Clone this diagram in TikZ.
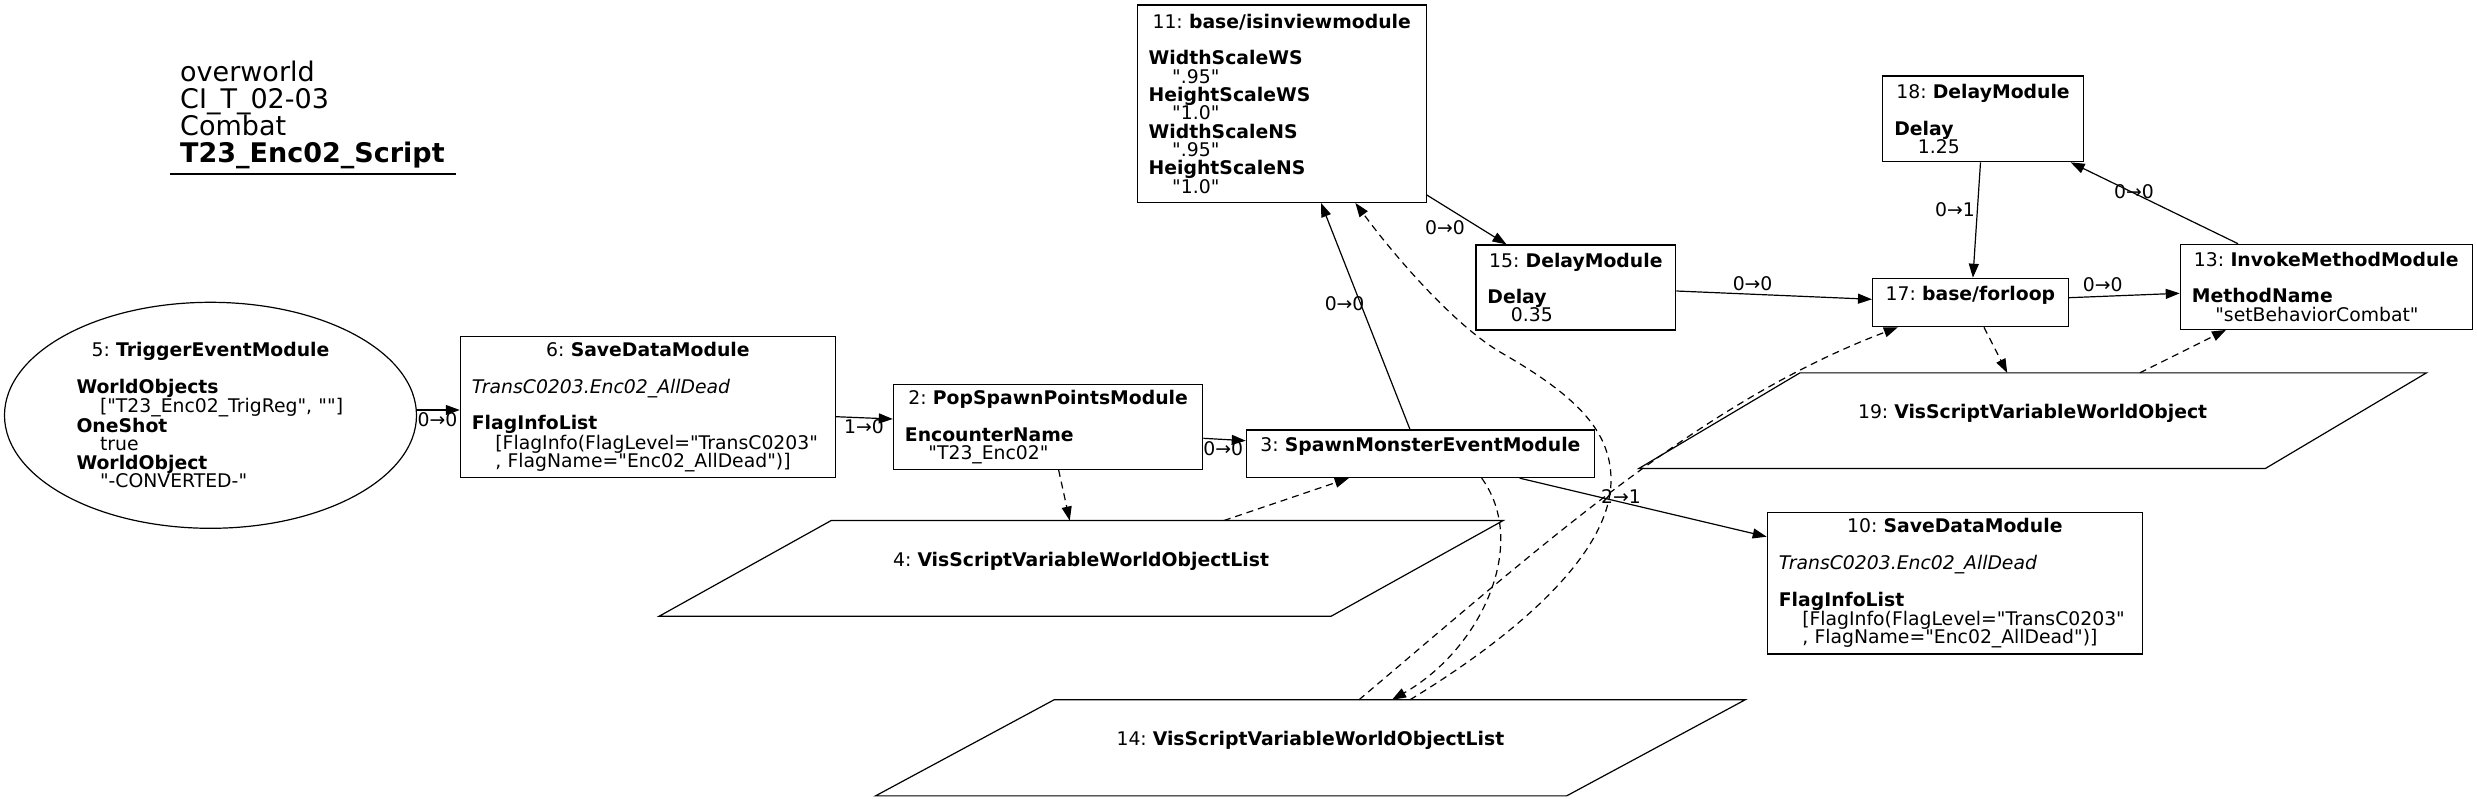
\documentclass[tikz,border=0pt]{standalone}
\usepackage{fontspec}
\setmainfont{DejaVu Sans}[Ligatures=TeXOff]
\usetikzlibrary{arrows.meta,shapes.geometric}
\lineskiplimit=-100pt
\begin{document}
\begin{tikzpicture}[x=1pt,y=-1pt,
  nf/.style={font=\fontsize{18.8pt}{18.3pt}\selectfont},
  modbox/.style={draw, rectangle, line width=1.2pt, inner xsep=0pt, inner ysep=0pt, align=left, nf},
  parabox/.style={rectangle, inner sep=0pt, align=center, nf},
  pline/.style={line width=1.2pt},
  conn/.style={line width=1.2pt, -{Triangle[length=14pt,width=10pt]}},
  dconn/.style={conn, dash pattern=on 7pt off 5pt},
  lbl/.style={inner sep=0pt, nf}
]
\useasboundingbox (0,0) rectangle (2477,801);

% title
\node[anchor=north west, inner sep=0pt, align=left, font=\fontsize{27pt}{26.7pt}\selectfont] (title) at (180,61.2) {overworld\\CI\_T\_02-03\\Combat\\\textbf{T23\_Enc02\_Script}};
\draw[pline] (170,174) -- (456,174);

% nodes
\node[modbox, ellipse, minimum width=412pt, minimum height=226pt, text width=268pt, font=\fontsize{18.8pt}{18.5pt}\selectfont] (n5) at (210.5,415.3) {\makebox[\linewidth]{5:~\textbf{TriggerEventModule}}\\\mbox{}\\\textbf{WorldObjects}\\\hspace*{23.5pt}["T23\_Enc02\_TrigReg",~""]\\\textbf{OneShot}\\\hspace*{23.5pt}true\\\textbf{WorldObject}\\\hspace*{23.5pt}"-CONVERTED-"};

\node[modbox, minimum width=375pt, minimum height=141pt, text width=352pt] (n6) at (647.9,407.2) {\makebox[\linewidth]{6:~\textbf{SaveDataModule}}\\\mbox{}\\\textit{TransC0203.Enc02\_AllDead}\\\mbox{}\\\textbf{FlagInfoList}\\\hspace*{23.5pt}[FlagInfo(FlagLevel="TransC0203"\\\hspace*{23.5pt},~FlagName="Enc02\_AllDead")]};

\node[modbox, minimum width=309.4pt, minimum height=84.6pt, text width=286.4pt] (n2) at (1048.1,427) {\makebox[\linewidth]{2:~\textbf{PopSpawnPointsModule}}\\\mbox{}\\\textbf{EncounterName}\\\hspace*{23.5pt}"T23\_Enc02"};

\node[modbox, minimum width=348.2pt, minimum height=47.5pt, text width=325.2pt] (n3) at (1420.4,453.8) {\makebox[\linewidth]{3:~\textbf{SpawnMonsterEventModule}}\\\mbox{}};

\node[modbox, minimum width=289pt, minimum height=197.3pt, text width=266pt] (n11) at (1281.7,103.7) {\makebox[\linewidth]{11:~\textbf{base/isinviewmodule}}\\\mbox{}\\\textbf{WidthScaleWS}\\\hspace*{23.5pt}".95"\\\textbf{HeightScaleWS}\\\hspace*{23.5pt}"1.0"\\\textbf{WidthScaleNS}\\\hspace*{23.5pt}".95"\\\textbf{HeightScaleNS}\\\hspace*{23.5pt}"1.0"};

\node[modbox, minimum width=199.8pt, minimum height=85pt, text width=176.8pt] (n15) at (1575.8,287.5) {\makebox[\linewidth]{15:~\textbf{DelayModule}}\\\mbox{}\\\textbf{Delay}\\\hspace*{23.5pt}0.35};

\node[modbox, minimum width=195.7pt, minimum height=48.4pt, text width=172.7pt] (n17) at (1970.4,302.5) {\makebox[\linewidth]{17:~\textbf{base/forloop}}\\\mbox{}};

\node[modbox, minimum width=200.3pt, minimum height=85.7pt, text width=177.3pt] (n18) at (1983,118.9) {\makebox[\linewidth]{18:~\textbf{DelayModule}}\\\mbox{}\\\textbf{Delay}\\\hspace*{23.5pt}1.25};

\node[modbox, minimum width=292pt, minimum height=85pt, text width=269pt] (n13) at (2326.3,286.8) {\makebox[\linewidth]{13:~\textbf{InvokeMethodModule}}\\\mbox{}\\\textbf{MethodName}\\\hspace*{23.5pt}"setBehaviorCombat"};

\node[modbox, minimum width=375pt, minimum height=141.3pt, text width=352pt] (n10) at (1954.8,583.4) {\makebox[\linewidth]{10:~\textbf{SaveDataModule}}\\\mbox{}\\\textit{TransC0203.Enc02\_AllDead}\\\mbox{}\\\textbf{FlagInfoList}\\\hspace*{23.5pt}[FlagInfo(FlagLevel="TransC0203"\\\hspace*{23.5pt},~FlagName="Enc02\_AllDead")]};

% parallelograms
\node[parabox, minimum width=843.6pt, minimum height=95.3pt] (n4) at (1081.1,568.4) {4:~\textbf{VisScriptVariableWorldObjectList}\\\mbox{}};
\draw[pline] (n4.south west) -- ([xshift=172pt]n4.north west) -- (n4.north east) -- ([xshift=-172pt]n4.south east) -- cycle;

\node[parabox, minimum width=869.3pt, minimum height=95.7pt] (n14) at (1310.4,747.8) {14:~\textbf{VisScriptVariableWorldObjectList}\\\mbox{}};
\draw[pline] (n14.south west) -- ([xshift=178.6pt]n14.north west) -- (n14.north east) -- ([xshift=-178.6pt]n14.south east) -- cycle;

\node[parabox, minimum width=787.3pt, minimum height=95.3pt] (n19) at (2032.6,420.7) {19:~\textbf{VisScriptVariableWorldObject}\\\mbox{}};
\draw[pline] (n19.south west) -- ([xshift=161.2pt]n19.north west) -- (n19.north east) -- ([xshift=-161.2pt]n19.south east) -- cycle;

% solid connectors
\draw[conn] ([yshift=5.3pt]n5.east) -- ([yshift=-2.8pt]n6.west);
\draw[conn] ([yshift=-9.5pt]n6.east) -- ([yshift=8pt]n2.west);
\draw[conn] ([yshift=-11.3pt]n2.east) -- ([yshift=13.1pt]n3.west);
\draw[conn] ([xshift=-10.4pt]n3.north) -- ([xshift=39.3pt]n11.south);
\draw[conn] ([yshift=-91.3pt]n11.east) -- ([xshift=-69.3pt]n15.north);
\draw[conn] ([yshift=-3.5pt]n15.east) -- ([yshift=3.2pt]n17.west);
\draw[conn] ([yshift=4.8pt]n17.east) -- ([yshift=-6.5pt]n13.west);
\draw[conn] ([xshift=-2.5pt]n18.south) -- ([xshift=2.5pt]n17.north);
\draw[conn] ([xshift=-88.3pt]n13.north) -- ([xshift=-13.1pt]n18.south east);
\draw[conn] ([xshift=99.2pt]n3.south) -- ([yshift=46.7pt]n10.west);

% dashed connectors
\draw[dconn] ([xshift=10.5pt]n2.south) -- ([xshift=-11.4pt]n4.north);
\draw[dconn] ([xshift=142.7pt]n4.north) -- ([xshift=-71.65pt]n3.south);
\draw[dconn] ([xshift=13.6pt]n17.south) -- ([xshift=-25.4pt]n19.north);
\draw[dconn] ([xshift=107.2pt]n19.north) -- ([xshift=-100.3pt]n13.south);
\draw[dconn] ([xshift=61.3pt]n3.south) .. controls (1530,545) and (1480,650) .. ([xshift=81.6pt]n14.north);
\draw[dconn] ([xshift=99.6pt]n14.north) .. controls (1500,645) and (1611,560) .. (1611,480) .. controls (1611,430) and (1575,395) .. (1500,352) .. controls (1450,322) and (1390,250) .. ([xshift=73.7pt]n11.south);
\draw[dconn] ([xshift=48.6pt]n14.north) .. controls (1539,548) and (1698,403) .. ([xshift=-72.6pt]n17.south);

% labels
\node[lbl] (l1) at (437.5,420) {0→0};
\node[lbl] (l2) at (864,426.7) {1→0};
\node[lbl] (l3) at (1223.3,448.3) {0→0};
\node[lbl] (l4) at (1344.6,304) {0→0};
\node[lbl] (l5) at (1445,227.7) {0→0};
\node[lbl] (l6) at (1752.6,283.3) {0→0};
\node[lbl] (l7) at (2102.8,285) {0→0};
\node[lbl] (l8) at (1955,209.3) {0→1};
\node[lbl] (l9) at (2134,191.7) {0→0};
\node[lbl] (l10) at (1621,496.7) {2→1};
\end{tikzpicture}
\end{document}
